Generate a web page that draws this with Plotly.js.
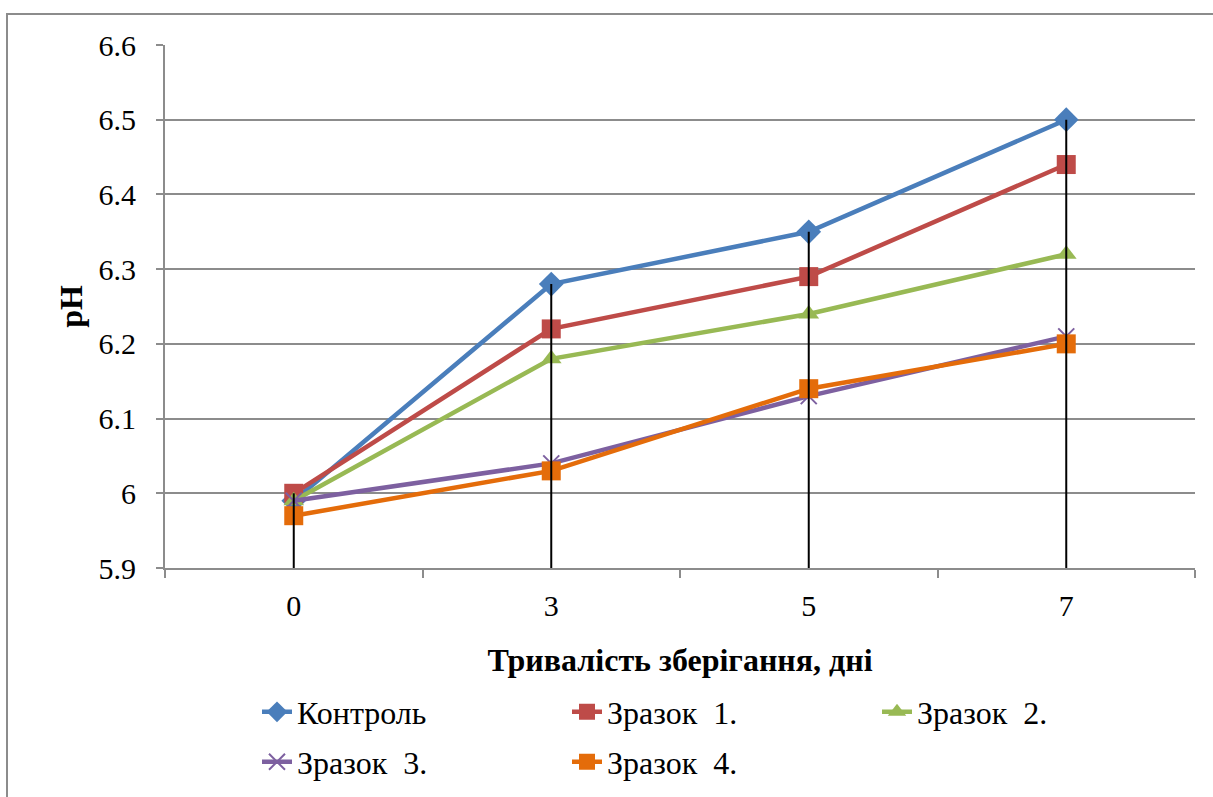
<!DOCTYPE html>
<html>
<head>
<meta charset="utf-8">
<script src="https://cdn.plot.ly/plotly-3.0.1.min.js"></script>
<style>html,body{margin:0;padding:0;background:#fff;}#chart{width:1213px;height:797px;}</style>
</head>
<body>
<div id="chart"></div>
<script>
const days = ['0', '3', '5', '7'];
const seriesNames = ['Контроль', 'Зразок  1.', 'Зразок  2.', 'Зразок  3.', 'Зразок  4.'];
const control = [5.99, 6.28, 6.35, 6.50];
const sample1 = [6.00, 6.22, 6.29, 6.44];
const sample2 = [5.99, 6.18, 6.24, 6.32];
const sample3 = [5.99, 6.04, 6.13, 6.21];
const sample4 = [5.97, 6.03, 6.14, 6.20];
const yTitle = 'pH';
const xTitle = 'Тривалість зберігання, дні';

const allSeries = [control, sample1, sample2, sample3, sample4];
const colors = ['#4a7ebb', '#be4b48', '#98b954', '#7d60a0', '#e46c0a'];
const symbols = ['diamond', 'square', 'triangle-up', 'x-thin-open', 'square'];
const sizes = [19, 19, 18, 16, 19];
const legendRow = ['legend', 'legend', 'legend', 'legend2', 'legend2'];

const traces = allSeries.map((vals, k) => ({
  type: 'scatter', mode: 'lines+markers',
  x: days, y: vals, name: seriesNames[k], legend: legendRow[k],
  line: {color: colors[k], width: 4.5},
  marker: {symbol: symbols[k], size: sizes[k], color: colors[k],
           line: {color: colors[k], width: k === 3 ? 2 : 0}},
  cliponaxis: false
}));

const yMin = 5.9, yMax = 6.6;
const shapes = days.map((d, i) => ({
  type: 'line', xref: 'x', yref: 'y', layer: 'above',
  x0: i, x1: i, y0: yMin, y1: Math.max(...allSeries.map(s => s[i])),
  line: {color: '#000', width: 2}
}));
shapes.push({
  type: 'rect', xref: 'paper', yref: 'paper', layer: 'below',
  x0: (7 - 165) / 1030, x1: 1.3, y0: -1, y1: (568 - 14) / 523,
  line: {color: '#8c8c8c', width: 2}, fillcolor: 'rgba(0,0,0,0)'
});

const serif = 'Liberation Serif';
const legendBase = {
  orientation: 'h', xref: 'container', yref: 'container',
  x: 257 / 1213, xanchor: 'left', yanchor: 'middle',
  entrywidth: 265, entrywidthmode: 'pixels',
  font: {family: serif, size: 32}, bgcolor: 'rgba(0,0,0,0)', traceorder: 'normal'
};
const layout = {
  width: 1213, height: 797,
  margin: {l: 165, r: 18, t: 45, b: 229, autoexpand: false},
  paper_bgcolor: '#fff', plot_bgcolor: '#fff',
  font: {family: serif, color: '#000', size: 28},
  showlegend: true,
  xaxis: {
    type: 'category', range: [-0.5, 3.5],
    showline: true, linecolor: '#8c8c8c', linewidth: 2,
    ticks: 'outside', tickson: 'boundaries', ticklen: 8, tickcolor: '#8c8c8c', tickwidth: 2,
    showgrid: false, zeroline: false,
    tickfont: {family: serif, size: 30},
    ticklabelstandoff: 10,
    title: {text: '<b>' + xTitle + '</b>', font: {family: serif, size: 32}, standoff: 28},
    automargin: false, fixedrange: true
  },
  yaxis: {
    range: [yMin, yMax], dtick: 0.1, tick0: 5.9,
    showline: true, linecolor: '#8c8c8c', linewidth: 2,
    ticks: 'outside', ticklen: 7, tickcolor: '#8c8c8c', tickwidth: 2,
    showgrid: true, gridcolor: '#8c8c8c', gridwidth: 2, zeroline: false,
    tickfont: {family: serif, size: 30},
    ticklabelstandoff: 14,
    title: {text: '<b>' + yTitle + '</b>', font: {family: serif, size: 32}, standoff: 6},
    automargin: false, fixedrange: true
  },
  legend: Object.assign({}, legendBase, {y: 1 - 712 / 797}),
  legend2: Object.assign({}, legendBase, {y: 1 - 762 / 797}),
  shapes: shapes
};

Plotly.newPlot('chart', traces, layout, {displayModeBar: false, staticPlot: true});
</script>
</body>
</html>
